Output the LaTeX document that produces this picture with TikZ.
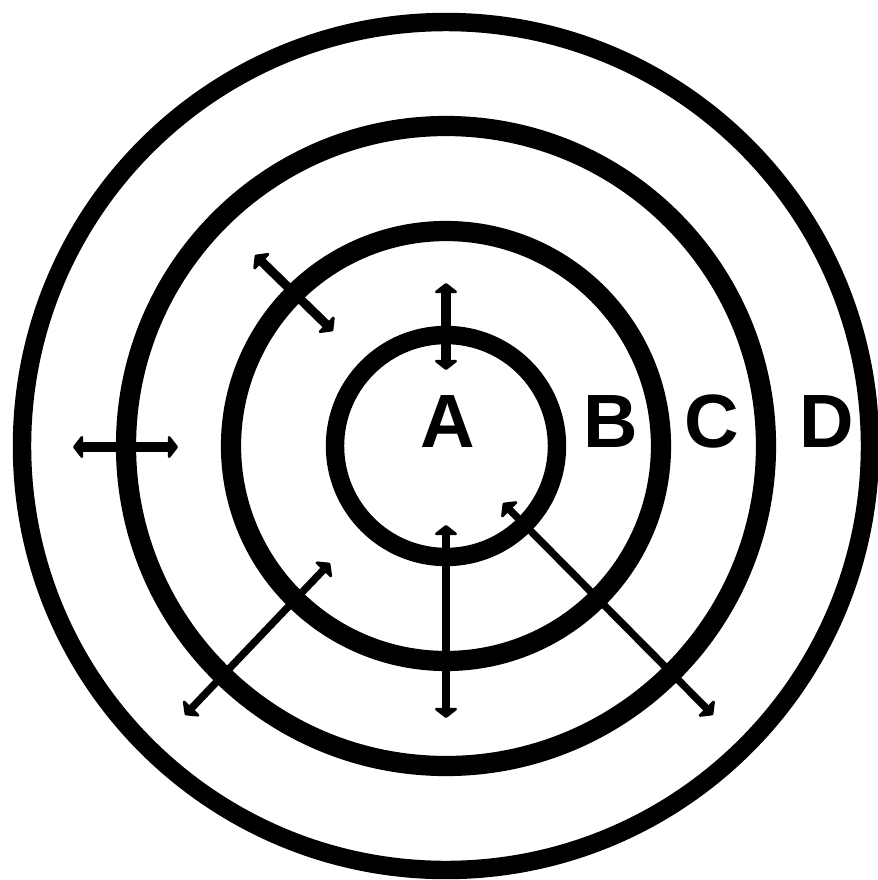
\documentclass[tikz,border=0pt]{standalone}
\usepackage{fontspec}
\setmainfont{Liberation Sans}
\usetikzlibrary{arrows.meta}
\begin{document}
\begin{tikzpicture}[x=0.02cm,y=-0.02cm,
  ring/.style={draw=black,line width=#1},
  ring/.default=11pt,
  tipshape/.style={},
  dblarrow/.style={draw=black,line width=5.2pt,
    {Triangle[round,width=15pt,length=6pt]}-{Triangle[round,width=15pt,length=6pt]}},
  letter/.style={inner sep=0pt,anchor=base,font=\fontsize{43}{43}\selectfont\bfseries}]
\useasboundingbox (0,0) rectangle (877,880);
\fill[white] (0,0) rectangle (877,880);
\coordinate (c) at (446,446);
% rings
\draw[ring=10.5pt] (c) circle[radius=111*0.02cm];
\draw[ring=11.5pt] (c) circle[radius=215*0.02cm];
\draw[ring=11.5pt] (c) circle[radius=320*0.02cm];
\draw[ring=10.5pt] (c) circle[radius=424*0.02cm];
% letters
\node[letter] (A) at (448,447) {A};
\node[letter] (B) at (611,447) {B};
\node[letter] (C) at (712,447) {C};
\node[letter] (D) at (827,447) {D};
% arrow end points
\coordinate (t1) at (446,283); \coordinate (t2) at (446,370);
\coordinate (u1) at (255,255); \coordinate (u2) at (333,331);
\coordinate (l1) at (73,447);  \coordinate (l2) at (178,447);
\coordinate (b1) at (446,525); \coordinate (b2) at (446,718);
\coordinate (ll1) at (330,563); \coordinate (ll2) at (185,715);
\coordinate (lr1) at (503,503); \coordinate (lr2) at (713,715);
% arrows
\draw[dblarrow] (t1) -- (t2);
\draw[dblarrow] (u1) -- (u2);
\draw[dblarrow] (l1) -- (l2);
\draw[dblarrow,line width=4.6pt] (b1) -- (b2);
\draw[dblarrow,line width=4.2pt] (ll1) -- (ll2);
\draw[dblarrow,line width=4.2pt] (lr1) -- (lr2);
\end{tikzpicture}
\end{document}
